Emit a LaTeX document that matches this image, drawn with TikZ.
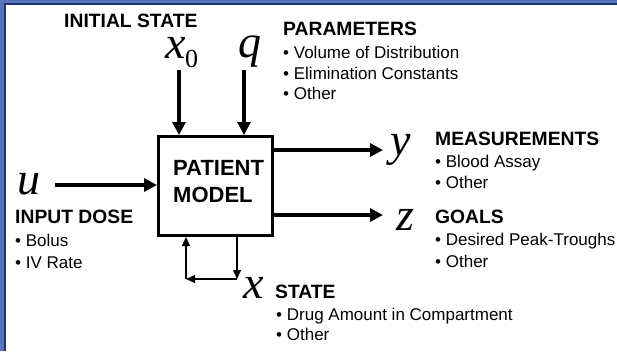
\documentclass[tikz,border=0pt]{standalone}
\usepackage{fontspec}
\setmainfont{Liberation Sans}
\newfontfamily\varfont{Liberation Serif}
\usetikzlibrary{arrows.meta}
\definecolor{frameLight}{RGB}{88,116,184}
\definecolor{frameDark}{RGB}{30,52,120}
\tikzset{
  head/.style={anchor=base west,inner sep=0pt,font=\fontsize{19.3}{19.3}\selectfont\bfseries},
  item/.style={anchor=base west,inner sep=0pt,font=\fontsize{17}{17}\selectfont},
  var/.style={anchor=base west,inner sep=0pt,font=\fontsize{46}{46}\selectfont\varfont\itshape},
  boxtext/.style={anchor=base west,inner sep=0pt,font=\fontsize{22}{22}\selectfont\bfseries},
  mainarrow/.style={line width=3.2pt,-{Triangle[length=13pt,width=13pt]}},
  looparrow/.style={line width=1.4pt,-{Triangle[length=9pt,width=8pt]}}
}
\begin{document}
\begin{tikzpicture}[x=1pt,y=-1pt]
\useasboundingbox (0,0) rectangle (617,351);
\fill[white] (0,0) rectangle (617,351);
% slide frame
\fill[frameDark] (0,0) rectangle (617,5);
\fill[frameDark] (0,0) rectangle (6,351);
\fill[frameLight] (0,0) rectangle (617,3);
\fill[frameLight] (0,0) rectangle (4,351);

% patient model box
\node[draw,line width=3pt,minimum width=114pt,minimum height=99pt,inner sep=0pt] (box) at (215.5,186) {};
\node[boxtext] (pat) at (173,175) {PATIENT};
\node[boxtext] (mod) at (173,202) {MODEL};

% variables
\node[var] (x0) at (165,58) {x};
\node[anchor=base west,inner sep=0pt,font=\fontsize{26}{26}\selectfont\varfont] (x0sub) at (185,67) {0};
\node[var] (q) at (238,57) {q};
\node[var] (u) at (17,194) {u};
\node[var] (yv) at (390,155) {y};
\node[var] (zv) at (396,230) {z};
\node[var] (xv) at (243,298) {x};

% connector end points
\coordinate (x0top) at (179,70);
\coordinate (qtop) at (244,70);
\coordinate (ustart) at (55,185);
\coordinate (yend) at (383,150);
\coordinate (zend) at (383,215);
\coordinate (c1) at (237,279);
\coordinate (c2) at (186,279);

\draw[mainarrow] (x0top) -- (x0top |- box.north);
\draw[mainarrow] (qtop) -- (qtop |- box.north);
\draw[mainarrow] (ustart) -- (ustart -| box.west);
\draw[mainarrow] (yend -| box.east) -- (yend);
\draw[mainarrow] (zend -| box.east) -- (zend);
\draw[looparrow] (c1 |- box.south) -- (c1);
\draw[looparrow] (c1) -- (c2);
\draw[looparrow] (c2) -- (c2 |- box.south);

% labels
\node[head] (init) at (64,27) {INITIAL STATE};
\node[head] (par) at (283,35) {PARAMETERS};
\node[item] (par1) at (283,58) {• Volume of Distribution};
\node[item] (par2) at (283,79) {• Elimination Constants};
\node[item] (par3) at (283,99) {• Other};

\node[head] (meas) at (435,145) {MEASUREMENTS};
\node[item] (meas1) at (435,167) {• Blood Assay};
\node[item] (meas2) at (435,188) {• Other};

\node[head] (goal) at (435,223) {GOALS};
\node[item] (goal1) at (435,245) {• Desired Peak-Troughs};
\node[item] (goal2) at (435,267) {• Other};

\node[head] (inp) at (15,223) {INPUT DOSE};
\node[item] (inp1) at (15,246) {• Bolus};
\node[item] (inp2) at (15,268) {• IV Rate};

\node[head] (st) at (275,298) {STATE};
\node[item] (st1) at (276,320) {• Drug Amount in Compartment};
\node[item] (st2) at (276,340) {• Other};
\end{tikzpicture}
\end{document}
